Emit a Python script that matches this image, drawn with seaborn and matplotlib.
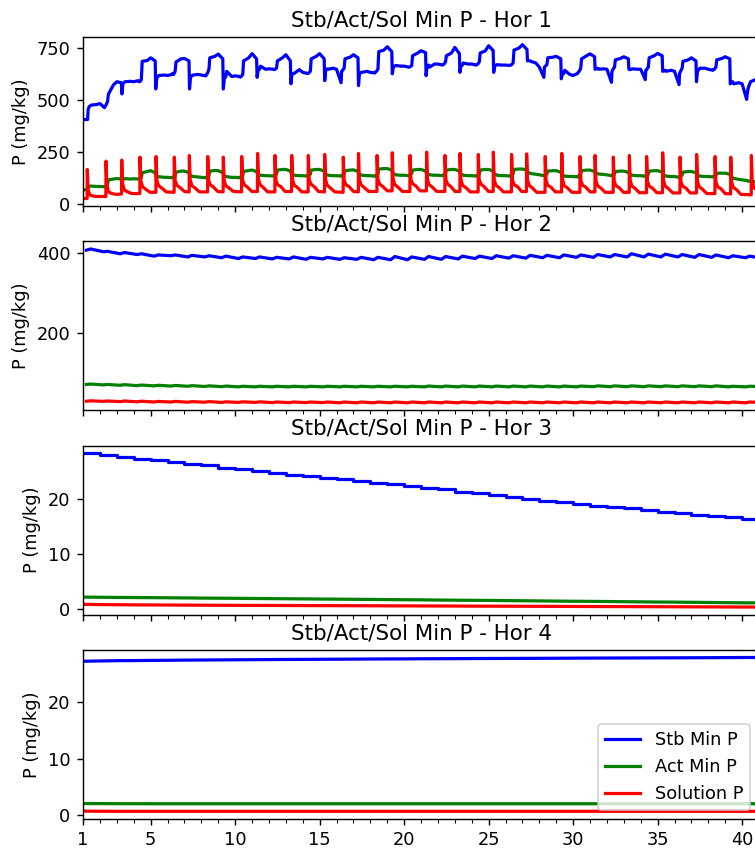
import numpy as np
import pandas as pd
import matplotlib
matplotlib.use('Agg')
import matplotlib.pyplot as plt
from matplotlib.ticker import MultipleLocator
import seaborn as sns

# ---- data ------------------------------------------------------------------
years = list(range(1, 41))
x_major = [1, 5, 10, 15, 20, 25, 30, 35, 40]
series_names = ['Stb Min P', 'Act Min P', 'Solution P']
series_colors = ['blue', 'green', 'red']
ylabel = 'P (mg/kg)'
titles = ['Stb/Act/Sol Min P - Hor %d' % i for i in range(1, 5)]
yticks = [[0, 250, 500, 750], [200, 400], [0, 10, 20], [0, 10, 20]]

# Hor 1 stable P: one row per year, sampled at these fractions of the year
h1_stb_frac = [0.0, 0.27, 0.30, 0.36, 0.45, 0.50, 0.80]
h1_stb_rows = [
    [408, 408, 455, 470, 475, 478, 480],
    [485, 465, 470, 478, 495, 530, 575],
    [590, 585, 531, 580, 588, 590, 592],
    [590, 595, 592, 590, 600, 688, 692],
    [705, 690, 555, 605, 618, 620, 622],
    [620, 625, 630, 625, 640, 685, 700],
    [702, 690, 555, 610, 620, 622, 625],
    [622, 618, 625, 630, 650, 705, 712],
    [723, 700, 555, 605, 615, 640, 615],
    [618, 615, 612, 615, 625, 690, 705],
    [725, 700, 611, 645, 650, 665, 650],
    [652, 650, 648, 650, 655, 690, 705],
    [720, 690, 580, 625, 630, 630, 648],
    [635, 630, 630, 632, 640, 700, 712],
    [725, 700, 595, 645, 652, 650, 655],
    [650, 585, 640, 645, 655, 700, 708],
    [720, 705, 571, 630, 635, 635, 640],
    [635, 632, 636, 640, 650, 735, 742],
    [758, 735, 628, 660, 665, 668, 665],
    [665, 660, 660, 662, 668, 715, 728],
    [739, 730, 619, 665, 670, 660, 675],
    [675, 670, 672, 675, 685, 715, 728],
    [755, 725, 635, 665, 670, 680, 675],
    [675, 670, 672, 675, 685, 728, 738],
    [763, 740, 635, 665, 670, 672, 670],
    [670, 668, 670, 672, 680, 742, 752],
    [768, 745, 690, 692, 690, 688, 680],
    [660, 611, 660, 665, 672, 705, 708],
    [712, 700, 604, 625, 630, 645, 625],
    [620, 630, 635, 640, 655, 700, 715],
    [724, 710, 650, 652, 655, 650, 652],
    [650, 587, 640, 650, 660, 695, 702],
    [710, 700, 650, 648, 650, 652, 650],
    [650, 600, 645, 650, 660, 705, 715],
    [726, 715, 640, 642, 645, 640, 645],
    [640, 576, 630, 640, 655, 688, 695],
    [705, 690, 590, 640, 650, 655, 655],
    [650, 645, 648, 650, 660, 695, 702],
    [710, 700, 580, 585, 590, 580, 585],
    [580, 505, 530, 560, 580, 590, 600],
]
h1_stb_end = 610

h1_act_frac = [0.0, 0.28, 0.32, 0.45, 0.50, 0.80]
h1_act_rows = [
    [70, 70, 86, 88, 88, 86], [86, 85, 84, 95, 118, 122],
    [124, 122, 118, 122, 124, 122], [123, 122, 124, 128, 152, 158],
    [162, 152, 134, 132, 133, 130], [130, 128, 132, 135, 155, 160],
    [160, 152, 140, 136, 134, 132], [130, 128, 133, 138, 160, 163],
    [162, 152, 138, 135, 133, 130], [130, 128, 133, 138, 158, 163],
    [165, 158, 145, 142, 140, 138], [138, 136, 140, 145, 165, 168],
    [168, 160, 145, 142, 140, 138], [138, 136, 140, 145, 165, 168],
    [168, 160, 145, 142, 140, 138], [138, 136, 140, 145, 162, 165],
    [166, 158, 145, 142, 140, 138], [138, 135, 140, 146, 170, 172],
    [172, 165, 148, 145, 142, 140], [140, 138, 142, 148, 165, 168],
    [168, 160, 148, 145, 142, 140], [140, 138, 142, 148, 165, 168],
    [168, 160, 145, 143, 140, 138], [138, 136, 140, 146, 165, 168],
    [168, 160, 145, 143, 140, 138], [138, 136, 140, 146, 168, 170],
    [170, 164, 155, 150, 148, 145], [142, 138, 142, 146, 160, 162],
    [162, 155, 142, 138, 136, 134], [134, 132, 138, 145, 162, 165],
    [165, 158, 150, 148, 146, 144], [142, 138, 142, 146, 158, 160],
    [160, 154, 145, 142, 140, 138], [138, 135, 140, 145, 160, 162],
    [162, 155, 140, 138, 136, 134], [134, 130, 135, 140, 155, 158],
    [158, 152, 140, 138, 136, 134], [134, 132, 136, 140, 150, 150],
    [150, 145, 132, 128, 125, 120], [118, 115, 112, 112, 110, 108],
]
h1_act_end = 108

# Hor 1 solution P: a spike each year (spike date as fraction of year),
# values at these offsets from the spike
h1_sol_start = 28
h1_sol_offsets = [-0.01, 0.0, 0.05, 0.15, 0.35, 0.6]
h1_sol_spike = [0.25, 0.36, 0.29, 0.37, 0.32, 0.40, 0.29, 0.38, 0.30, 0.39,
                0.33, 0.36, 0.35, 0.33, 0.30, 0.40, 0.30, 0.40, 0.30, 0.35,
                0.33, 0.42, 0.31, 0.39, 0.28, 0.36, 0.25, 0.35, 0.33, 0.41,
                0.30, 0.38, 0.33, 0.35, 0.30, 0.33, 0.31, 0.40, 0.33, 0.55]
h1_sol_rows = [
    [28, 168, 70, 45, 40, 38], [38, 208, 95, 60, 52, 48],
    [50, 213, 100, 70, 60, 52], [52, 227, 115, 85, 72, 58],
    [58, 230, 115, 90, 78, 60], [58, 227, 115, 92, 80, 62],
    [60, 235, 118, 90, 78, 60], [60, 230, 118, 95, 82, 62],
    [60, 227, 115, 90, 78, 62], [60, 230, 118, 95, 82, 62],
    [62, 245, 120, 95, 80, 60], [60, 235, 118, 95, 85, 62],
    [62, 235, 118, 92, 80, 60], [60, 235, 120, 98, 85, 62],
    [60, 240, 118, 92, 78, 60], [58, 227, 118, 95, 85, 62],
    [60, 245, 120, 95, 80, 62], [62, 235, 120, 98, 85, 65],
    [65, 248, 122, 95, 82, 62], [62, 235, 120, 100, 88, 65],
    [65, 251, 122, 95, 82, 62], [62, 235, 120, 98, 85, 62],
    [62, 245, 120, 92, 80, 60], [60, 240, 120, 98, 85, 62],
    [62, 251, 120, 92, 80, 60], [60, 240, 118, 95, 85, 62],
    [62, 243, 118, 92, 78, 58], [58, 230, 115, 92, 82, 60],
    [60, 245, 118, 90, 78, 58], [58, 230, 115, 92, 82, 60],
    [60, 235, 115, 90, 78, 58], [58, 227, 112, 90, 80, 58],
    [58, 235, 115, 88, 76, 56], [56, 230, 112, 88, 78, 56],
    [56, 248, 115, 88, 75, 55], [55, 227, 110, 88, 78, 55],
    [55, 240, 112, 85, 72, 52], [52, 230, 110, 85, 75, 52],
    [50, 227, 108, 82, 70, 48], [46, 235, 110, 80, 68, 48],
]

# Hor 2: (trough, bump) per year
h2_frac = [0.2, 0.45]
h2_stb_rows = [
    (407, 410), (403, 404), (398, 401), (396, 398), (392, 395), (393, 395),
    (390, 394), (390, 393), (388, 392), (386, 390), (386, 390), (385, 389),
    (385, 390), (384, 389), (385, 389), (384, 388), (384, 389), (383, 389),
    (383, 391), (383, 390), (384, 391), (384, 391), (385, 392), (386, 392),
    (386, 393), (387, 393), (387, 394), (388, 394), (388, 395), (389, 395),
    (389, 396), (390, 396), (390, 398), (390, 397), (390, 397), (390, 396),
    (389, 396), (389, 395), (388, 393), (388, 392),
]
h2_act_rows = [
    (70, 71), (69, 70), (68, 69.5), (67, 68.5), (66.5, 68), (66, 67.5),
    (65.5, 67), (65, 66.5), (64.5, 66), (64, 65.5), (64, 65.5), (64, 65.5),
    (64, 65.5), (64, 65.5), (64, 65.5), (64, 65.5), (64, 65.5), (64, 65.5),
    (64, 65.5), (64, 65.5), (64, 66), (64, 66), (64, 66), (64, 66),
    (64, 66), (64, 66), (64, 66), (64, 66), (64, 66), (64, 66),
    (64.5, 66.5), (64.5, 66.5), (64.5, 66.5), (64.5, 66.5), (64.5, 66.5),
    (64.5, 66.5), (64.5, 66.5), (64.5, 66.5), (64, 65.5), (64, 65.5),
]
h2_sol_rows = [
    (28, 29), (27.5, 28.5), (27, 28.5), (26.5, 28), (26, 27.5), (26, 27.5),
    (25.5, 27), (25.5, 27), (25, 26.5), (25, 26.5), (25, 26.5), (24.5, 26),
    (24.5, 26), (24.5, 26), (24.5, 26), (24, 26), (24, 26), (24, 26),
    (24, 26), (24, 26), (24, 26), (24, 26), (24, 26), (24, 26),
    (24, 26), (24, 26), (24, 26), (24, 26), (24, 26), (24, 26),
    (24, 26), (24, 26), (24, 26), (24, 26), (24, 26), (24, 26),
    (24, 26), (24, 26), (24, 26), (24, 26),
]
h2_end = [388, 65, 25]

# Hor 3 / Hor 4: one value per year, x = 1..41
annual_x = list(range(1, 42))
h3_stb = [28.2, 27.85, 27.5, 27.2, 26.9, 26.65, 26.2, 26.0, 25.6, 25.3,
          25.0, 24.7, 24.3, 24.0, 23.7, 23.5, 23.2, 22.9, 22.6, 22.3,
          22.0, 21.7, 21.2, 20.95, 20.6, 20.3, 19.9, 19.6, 19.3, 19.0,
          18.7, 18.5, 18.3, 18.0, 17.6, 17.4, 17.1, 16.9, 16.6, 16.3, 15.9]
h3_act = [2.2, 2.17, 2.14, 2.12, 2.1, 2.08, 2.05, 2.02, 2.0, 1.98,
          1.95, 1.93, 1.9, 1.88, 1.85, 1.83, 1.8, 1.78, 1.75, 1.73,
          1.7, 1.67, 1.64, 1.62, 1.6, 1.57, 1.54, 1.51, 1.48, 1.45,
          1.43, 1.4, 1.37, 1.34, 1.31, 1.29, 1.26, 1.23, 1.2, 1.17, 1.15]
h3_sol = [0.9, 0.85, 0.82, 0.8, 0.78, 0.77, 0.75, 0.74, 0.72, 0.71,
          0.7, 0.69, 0.68, 0.67, 0.66, 0.65, 0.64, 0.63, 0.62, 0.61,
          0.6, 0.59, 0.58, 0.57, 0.56, 0.55, 0.54, 0.53, 0.52, 0.51,
          0.5, 0.49, 0.48, 0.47, 0.46, 0.45, 0.44, 0.43, 0.42, 0.41, 0.4]
h4_stb = [27.3, 27.35, 27.4, 27.42, 27.45, 27.47, 27.5, 27.52, 27.54, 27.56,
          27.58, 27.6, 27.62, 27.63, 27.65, 27.66, 27.68, 27.7, 27.71, 27.72,
          27.74, 27.75, 27.76, 27.78, 27.79, 27.8, 27.81, 27.82, 27.83, 27.85,
          27.86, 27.87, 27.88, 27.89, 27.9, 27.91, 27.92, 27.93, 27.95, 27.96, 27.97]
h4_act = [2.1, 2.08, 2.07, 2.07, 2.06, 2.06, 2.06, 2.06, 2.06, 2.06,
          2.06, 2.06, 2.06, 2.06, 2.06, 2.06, 2.06, 2.06, 2.06, 2.06,
          2.06, 2.06, 2.06, 2.06, 2.06, 2.06, 2.06, 2.06, 2.06, 2.06,
          2.06, 2.06, 2.06, 2.06, 2.06, 2.06, 2.06, 2.06, 2.06, 2.06, 2.06]
h4_sol = [0.75, 0.73, 0.72, 0.72, 0.72, 0.72, 0.72, 0.72, 0.72, 0.72,
          0.72, 0.72, 0.72, 0.72, 0.72, 0.72, 0.72, 0.72, 0.72, 0.72,
          0.72, 0.72, 0.72, 0.72, 0.72, 0.72, 0.72, 0.72, 0.72, 0.72,
          0.72, 0.72, 0.72, 0.72, 0.72, 0.72, 0.72, 0.72, 0.72, 0.72, 0.72]


def rows_to_series(rows, fracs, end=None):
    t, v = [], []
    for yr, row in zip(years, rows):
        for f, val in zip(fracs, row):
            t.append(yr + f)
            v.append(val)
    if end is not None:
        t.append(41)
        v.append(end)
    return t, v


def spike_series(start, spikes, rows):
    t, v = [1.0], [start]
    for yr, sf, row in zip(years, spikes, rows):
        for off, val in zip(h1_sol_offsets, row):
            t.append(yr + sf + off)
            v.append(val)
    return t, v


def to_frame(parts):
    frames = []
    for name, (t, v) in zip(series_names, parts):
        frames.append(pd.DataFrame({'t': t, 'P': v, 'series': name}))
    return pd.concat(frames, ignore_index=True)


def main():
    panels = [
        to_frame([rows_to_series(h1_stb_rows, h1_stb_frac, h1_stb_end),
                  rows_to_series(h1_act_rows, h1_act_frac, h1_act_end),
                  spike_series(h1_sol_start, h1_sol_spike, h1_sol_rows)]),
        to_frame([rows_to_series(h2_stb_rows, h2_frac, h2_end[0]),
                  rows_to_series(h2_act_rows, h2_frac, h2_end[1]),
                  rows_to_series(h2_sol_rows, h2_frac, h2_end[2])]),
        to_frame([(annual_x, h3_stb), (annual_x, h3_act), (annual_x, h3_sol)]),
        to_frame([(annual_x, h4_stb), (annual_x, h4_act), (annual_x, h4_sol)]),
    ]

    # the reference was rendered at ~128 dpi (text is larger than 100 dpi)
    dpi = 128
    fig, axes = plt.subplots(4, 1, figsize=(755 / dpi, 851 / dpi), dpi=dpi,
                             sharex=True)
    fig.subplots_adjust(left=0.110, right=1.0053, top=0.9565, bottom=0.0376,
                        hspace=0.207)

    for i, (ax, df) in enumerate(zip(axes, panels)):
        for name, color in zip(series_names, series_colors):
            sub = df[df['series'] == name]
            kw = {'drawstyle': 'steps-post'} if (i == 2 and name == 'Stb Min P') else {}
            sns.lineplot(data=sub, x='t', y='P', color=color, lw=1.8,
                         estimator=None, sort=False, ax=ax,
                         label=name if i == 3 else None, legend=False, **kw)
        ax.set_title(titles[i], fontsize=12)
        ax.set_ylabel(ylabel)
        ax.set_xlabel('')
        ax.set_yticks(yticks[i])
        ax.set_xlim(1, 41)
        ax.set_xticks(x_major)
        ax.xaxis.set_minor_locator(MultipleLocator(1))

    axes[3].legend(loc='lower right')
    fig.savefig('out.png', dpi=dpi)


if __name__ == "__main__":
    main()
